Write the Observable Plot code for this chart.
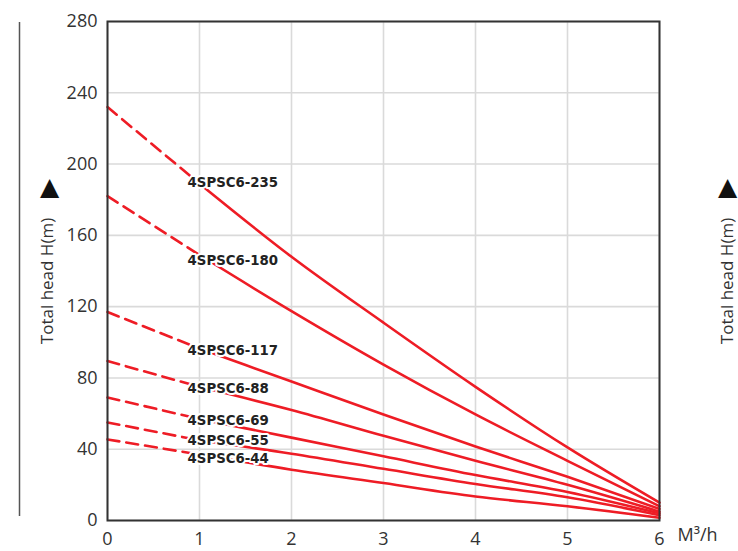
<!DOCTYPE html>
<html>
<head>
<meta charset="utf-8">
<script src="https://cdn.jsdelivr.net/npm/d3@7"></script>
<script src="https://cdn.jsdelivr.net/npm/@observablehq/plot@0.6"></script>
<style>
  html, body { margin: 0; padding: 0; background: #fff; }
  #chart svg { display: block; }
</style>
</head>
<body>
<div id="chart"></div>
<script>
// ---- data ----
const flow = [0, 1, 2, 3, 4, 5, 6];            // M³/h
const models = ["4SPSC6-235", "4SPSC6-180", "4SPSC6-117", "4SPSC6-88", "4SPSC6-69", "4SPSC6-55", "4SPSC6-44"];
const head235 = [232, 189, 148, 111, 75, 41, 10];
const head180 = [182, 149, 117.5, 87.5, 59.5, 33.5, 8];
const head117 = [117, 96.5, 78, 59.5, 41.5, 24.5, 6.5];
const head88  = [89.5, 75, 62, 47.5, 33.5, 20, 5];
const head69  = [69, 57, 46.5, 36, 25.5, 16, 4];
const head55  = [55, 45, 37.5, 29, 20.5, 13, 3];
const head44  = [45.5, 37, 28.5, 21, 13.5, 8, 1.5];
// where each model label sits on the chart (flow, head)
const labelFlow = [0.87, 0.87, 0.87, 0.87, 0.87, 0.87, 0.87];
const labelHead = [189.6, 145.9, 95.4, 74.1, 56.1, 44.9, 34.8];
const xTicks = [0, 1, 2, 3, 4, 5, 6];
const yTicks = [0, 40, 80, 120, 160, 200, 240, 280];

const heads = [head235, head180, head117, head88, head69, head55, head44];
const rows = [];
models.forEach((m, i) => flow.forEach((q, j) => rows.push({model: m, q, h: heads[i][j]})));
const dashedRows = rows.filter(d => d.q <= 1);
const solidRows = rows.filter(d => d.q >= 1);
const labelRows = models.map((m, i) => ({model: m, q: labelFlow[i], h: labelHead[i]}));

const red = "#ee1c25";
const font = "'Open Sans', 'Noto Sans', sans-serif";

const chart = Plot.plot({
  width: 738,
  height: 551,
  marginLeft: 107,
  marginRight: 79,
  marginTop: 21,
  marginBottom: 31,
  style: {fontFamily: font, fontSize: "18px", color: "#333", background: "#fff", overflow: "visible"},
  x: {domain: [0, 6], ticks: xTicks, tickSize: 0, tickPadding: 12, label: null},
  y: {domain: [0, 280], ticks: yTicks, tickSize: 0, tickPadding: 10, label: null},
  marks: [
    Plot.gridX(xTicks, {stroke: "#dadada", strokeOpacity: 1, strokeWidth: 1.6}),
    Plot.gridY(yTicks, {stroke: "#dadada", strokeOpacity: 1, strokeWidth: 1.6}),
    Plot.line(dashedRows, {x: "q", y: "h", z: "model", stroke: red, strokeWidth: 2.6, strokeDasharray: "12,7"}),
    Plot.line(solidRows, {x: "q", y: "h", z: "model", stroke: red, strokeWidth: 2.6, curve: "monotone-x"}),
    Plot.text(labelRows, {x: "q", y: "h", text: "model", textAnchor: "start",
      fontFamily: "'DejaVu Sans Condensed', 'DejaVu Sans', sans-serif", fontWeight: "bold", fontSize: 14.8,
      fill: "#222", stroke: "white", strokeWidth: 4}),
    Plot.frame({stroke: "#333", strokeWidth: 2}),
    Plot.axisX(xTicks, {tickSize: 0, tickPadding: 12, fontSize: 18, label: null}),
    Plot.axisY(yTicks, {tickSize: 0, tickPadding: 10, fontSize: 18, label: null}),
    Plot.text(["M³/h"], {frameAnchor: "bottom-right", textAnchor: "start", dx: 18, dy: 20, fontSize: 18, fill: "#333"}),
    Plot.text(["Total head H(m)"], {frameAnchor: "left", textAnchor: "middle", dx: -60, dy: 10, rotate: -90, fontSize: 17, fill: "#333"}),
    Plot.text(["▲"], {frameAnchor: "left", textAnchor: "middle", dx: -58, dy: -84, fontSize: 25, fill: "#111", fontFamily: "'DejaVu Sans', sans-serif"}),
    Plot.text(["Total head H(m)"], {frameAnchor: "right", textAnchor: "middle", dx: 68, dy: 10, rotate: -90, fontSize: 17, fill: "#333"}),
    Plot.text(["▲"], {frameAnchor: "right", textAnchor: "middle", dx: 68, dy: -84, fontSize: 25, fill: "#111", fontFamily: "'DejaVu Sans', sans-serif"})
  ]
});

// decorative vertical rule at the far left
d3.select(chart).append("line")
  .attr("x1", 19.5).attr("x2", 19.5).attr("y1", 22).attr("y2", 516)
  .attr("stroke", "#555").attr("stroke-width", 1.5);

document.getElementById("chart").appendChild(chart);
</script>
</body>
</html>
